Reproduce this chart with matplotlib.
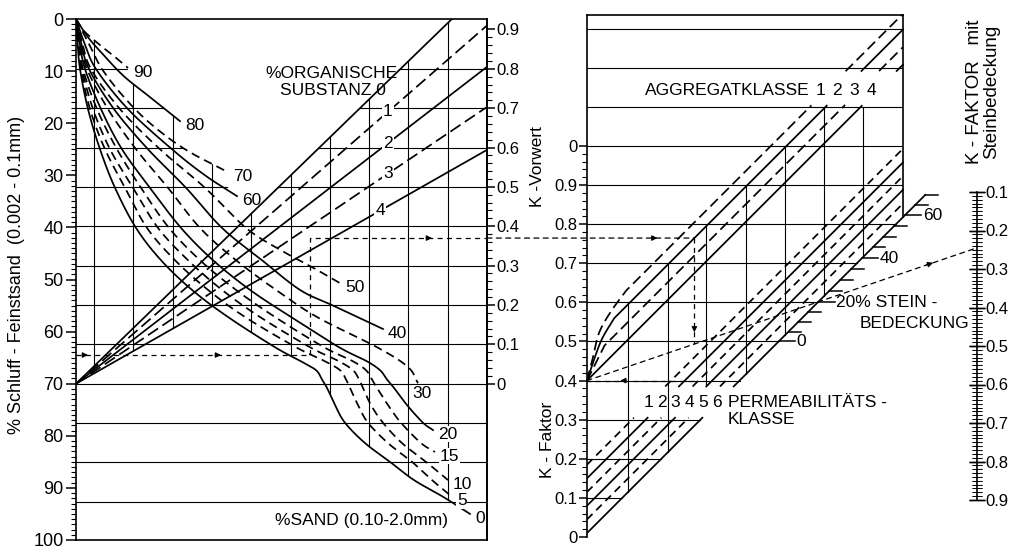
import numpy as np
import matplotlib.pyplot as plt
from matplotlib.patches import Polygon, ConnectionPatch
from matplotlib.ticker import MultipleLocator, FixedLocator, FuncFormatter

plt.rcParams['font.family'] = ['Liberation Sans', 'DejaVu Sans']

# ---------------------------------------------------------------- data
# left block: x = position inside the frame (0 .. 411), y = % Schluff + Feinstsand
sand_90 = ([0, 8, 24, 39, 52], [0, 2.3, 5.0, 7.3, 9.4])
sand_80 = ([0, 12, 28, 48, 74, 104], [0, 3.5, 7.0, 11.0, 15.0, 19.6])
sand_70 = ([0, 12, 26, 48, 74, 109, 152], [0, 4.4, 9.6, 15.0, 20.0, 25.0, 29.4])
sand_60 = ([0, 8, 20, 52, 96, 129, 161], [0, 4.4, 9.6, 17.3, 25.0, 30.0, 34.0])
sand_50 = ([0, 6, 15, 44, 84, 129, 170, 204, 234, 264],
           [0, 4.4, 9.6, 17.3, 25.0, 32.4, 40.1, 44.3, 47.4, 50.7])
sand_40 = ([0, 5, 13, 38, 72, 110, 146, 186, 224, 257, 307],
           [0, 4.4, 9.6, 17.3, 25.0, 32.4, 40.1, 46.3, 52.0, 55.0, 59.5])
sand_30 = ([0, 4, 11, 32, 60, 92, 124, 160, 200, 241, 302, 332, 342],
           [0, 4.4, 9.6, 17.3, 25.0, 32.4, 40.1, 46.3, 52.0, 57.2, 63.1, 66.8, 69.9])
sand_20 = ([0, 3.5, 9, 25, 46, 74, 105, 137, 174, 215, 263, 290, 304, 311, 318, 331, 347, 357],
           [0, 4.4, 9.6, 17.3, 25.0, 32.4, 40.1, 46.3, 52.0, 57.2, 63.0, 65.6, 67.4, 69.2, 70.8,
            74.1, 77.5, 78.9])
sand_15 = ([0, 3, 7, 21, 41, 65, 93, 124, 160, 199, 248, 276, 290, 296, 301, 312, 325, 345, 359],
           [0, 4.4, 9.6, 17.3, 25.0, 32.4, 40.1, 46.3, 52.0, 57.2, 63.0, 65.6, 67.4, 69.2, 70.8,
            74.1, 77.5, 81.4, 83.1])
sand_10 = ([0, 2.5, 6, 17, 34, 57, 82, 112, 146, 184, 234, 262, 277, 283, 287, 295, 307, 326, 350,
            372],
           [0, 4.4, 9.6, 17.3, 25.0, 32.4, 40.1, 46.3, 52.0, 57.2, 63.0, 65.6, 67.4, 69.2, 70.8,
            74.1, 77.5, 81.4, 85.0, 88.5])
sand_5 = ([0, 2, 5, 14, 29, 49, 71, 99, 132, 169, 220, 248, 264, 270, 274, 282, 292, 312, 336, 356,
           376],
          [0, 4.4, 9.6, 17.3, 25.0, 32.4, 40.1, 46.3, 52.0, 57.2, 63.0, 65.6, 67.4, 69.2, 70.8,
           74.1, 77.5, 81.4, 85.0, 88.5, 91.7])
sand_0 = ([0, 1.5, 4, 12, 24, 39, 60, 85, 116, 152, 199, 224, 240, 246, 251, 259, 269, 289, 314, 338,
           367, 394],
          [0, 4.4, 9.6, 17.3, 25.0, 32.4, 40.1, 46.3, 52.0, 57.2, 63.0, 65.6, 67.4, 69.2, 70.8,
           74.1, 77.5, 81.4, 85.0, 88.5, 91.7, 95.0])
sand_pct = [90, 80, 70, 60, 50, 40, 30, 20, 15, 10, 5, 0]
sand_curves = [sand_90, sand_80, sand_70, sand_60, sand_50, sand_40, sand_30,
               sand_20, sand_15, sand_10, sand_5, sand_0]
sand_dashed = [True, False, True, False, True, False, True, False, True, True, True, False]

om_pct = [0, 1, 2, 3, 4]
om_k_right = [1.013, 0.91, 0.805, 0.703, 0.594]     # K-Vorwert where the line meets the right frame
om_dashed = [False, True, False, True, False]

silt_ticks = list(range(0, 101, 10))
k_vorwert_ticks = [0, 0.1, 0.2, 0.3, 0.4, 0.5, 0.6, 0.7, 0.8, 0.9]
left_grid_k = [0.8, 0.7, 0.6, 0.5, 0.4, 0.3, 0.2, 0.1, 0.0, -0.1, -0.2, -0.3]

# right block: x in K units, y = K-Faktor
agg_class = [1, 2, 3, 4]
agg_offset = [0.53, 0.49, 0.445, 0.40]
agg_dashed = [True, False, True, False]
agg_bend_x = [[0, 0.013, 0.03, 0.06, 0.1], [0, 0.02, 0.04, 0.07], [0, 0.02, 0.045], [0]]
agg_bend_k = [[0.4, 0.45, 0.52, 0.575, 0.63], [0.4, 0.46, 0.51, 0.56], [0.4, 0.44, 0.49], [0.4]]

perm_class = [1, 2, 3, 4, 5, 6]
perm_offset = [0.185, 0.15, 0.115, 0.08, 0.045, 0.01]
perm_dashed = [True, False, True, False, True, False]

stone_pct = [0, 20, 40, 60, 70]
stone_k = [0.5, 0.601, 0.713, 0.823, 0.875]
stone_labelled = [0, 20, 40, 60]

k_faktor_ticks = [0, 0.1, 0.2, 0.3, 0.4, 0.5, 0.6, 0.7, 0.8, 0.9, 1.0]
k_faktor_labels = ['0', '0.1', '0.2', '0.3', '0.4', '0.5', '0.6', '0.7', '0.8', '0.9', '0']
right_grid_x = [0.105, 0.207, 0.304, 0.407, 0.506, 0.606, 0.706]
right_grid_k = [0.1, 0.2, 0.3, 0.4, 0.5, 0.6, 0.7, 0.8, 0.9, 1.0, 1.1, 1.2, 1.3]
k_stone_ticks = [0.1, 0.2, 0.3, 0.4, 0.5, 0.6, 0.7, 0.8, 0.9]

# worked example drawn with the thin dashed arrows
read_silt = 64.5
read_sand_x = 234
read_k_vorwert = 0.37
read_agg = 2
read_k_faktor = 0.4
read_k_stone = 0.245


def catmull(x, y, n=24):
    p = np.column_stack([x, y]).astype(float)
    p = np.vstack([2 * p[0] - p[1], p, 2 * p[-1] - p[-2]])
    t = np.linspace(0, 1, n, endpoint=False)[:, None]
    out = []
    for i in range(1, len(p) - 2):
        p0, p1, p2, p3 = p[i - 1], p[i], p[i + 1], p[i + 2]
        out.append(0.5 * (2 * p1 + (p2 - p0) * t + (2 * p0 - 5 * p1 + 4 * p2 - p3) * t ** 2
                          + (3 * p1 - p0 - 3 * p2 + p3) * t ** 3))
    out.append(p[-2][None])
    return np.vstack(out)


def arrow(a, x, y, dx, dy, ms=8):
    a.annotate('', xy=(x, y), xytext=(x - dx, y - dy),
               arrowprops=dict(arrowstyle='-|>', color='k', lw=0.8, mutation_scale=ms,
                               shrinkA=0, shrinkB=0), annotation_clip=False)


W, H = 1011, 546
fig = plt.figure(figsize=(W / 100, H / 100), dpi=100)


def frame(x0, y0, x1, y1):
    return [x0 / W, 1 - y1 / H, (x1 - x0) / W, (y1 - y0) / H]


LW = 1.25
GRID = dict(color='k', lw=0.8)
PATH = dict(color='k', lw=0.9, ls=(0, (4, 3.5)))
TXT = dict(fontsize=12.5, color='k')

# ================================================================ left block
XL = 411
kps = 0.9 / 68                       # K-Vorwert per % silt


def k2silt(k):
    return 70 - np.asarray(k) / kps


ax = fig.add_axes(frame(76, 19, 487, 540))
ax.set_xlim(0, XL)
ax.set_ylim(100, 0)
axk = ax.twinx()
axk.set_ylim(-30 * kps, 70 * kps)
for a in (ax, axk):
    for s in a.spines.values():
        s.set_linewidth(1.2)
axk.spines['left'].set_visible(False)
axk.spines['top'].set_visible(False)
axk.spines['bottom'].set_visible(False)

ax.set_xticks([])
ax.set_yticks(silt_ticks)
ax.yaxis.set_minor_locator(MultipleLocator(1))
ax.tick_params(axis='y', which='major', length=7, width=1.1, labelsize=13, pad=2)
ax.tick_params(axis='y', which='minor', length=3.5, width=0.8)
ax.set_ylabel('% Schluff - Feinstsand  (0.002 - 0.1mm)', fontsize=13)
ax.yaxis.set_label_coords(-0.125, 0.509)

axk.set_yticks(k_vorwert_ticks)
axk.yaxis.set_major_formatter(FuncFormatter(lambda v, p: '0' if abs(v) < 1e-9 else f'{v:.1f}'))
axk.yaxis.set_minor_locator(FixedLocator(np.arange(0, 0.901, 0.02)))
axk.tick_params(axis='y', which='major', length=6, width=1.1, labelsize=12, pad=1)
axk.tick_params(axis='y', which='minor', length=3.5, width=0.8)
axk.set_ylabel('K -Vorwert', fontsize=12.5)
axk.yaxis.set_label_coords(1.105, 0.716)

# sand curves and the envelope used to trim the grid
xs = np.linspace(0, XL, 1500)
dense = [catmull(*c) for c in sand_curves]


def along_x(curve):
    cx = np.maximum.accumulate(curve[:, 0])
    v = np.interp(xs, cx, curve[:, 1])
    v[xs > cx[-1]] = np.nan
    return v


sand_top = np.fmin.reduce(np.vstack([along_x(d) for d in dense]), axis=0)
top = np.fmin(sand_top, k2silt(om_k_right[0] * xs / XL))
low = np.fmax(k2silt(om_k_right[-1] * xs / XL), along_x(dense[-1]))

clip_h = Polygon(np.vstack([np.column_stack([xs, top]), [[XL, 101], [0, 101]]]),
                 transform=ax.transData, facecolor='none', edgecolor='none')
clip_v = Polygon(np.vstack([np.column_stack([xs, top]), np.column_stack([xs, low])[::-1]]),
                 transform=ax.transData, facecolor='none', edgecolor='none')
ax.add_patch(clip_h)
ax.add_patch(clip_v)

for k in left_grid_k:
    ln, = ax.plot([0, XL], [k2silt(k)] * 2, **GRID)
    ln.set_clip_path(clip_h)
for i in range(1, 11):
    gx = XL - 39.3 * i
    ln, = ax.plot([gx, gx], [0, 100], **GRID)
    ln.set_clip_path(clip_v)

for d, pct, dashed in zip(dense, sand_pct, sand_dashed):
    ax.plot(d[:, 0], d[:, 1], color='k', lw=LW, ls=(0, (5, 3)) if dashed else '-')
    ex, ey = d[-1]
    dx, dy = (-6, 1.9) if pct == 30 else (5, 0.8)
    ax.text(ex + dx, ey + dy, str(pct), ha='left', va='center', zorder=5,
            bbox=dict(facecolor='white', edgecolor='none', pad=0.4), **TXT)
ax.text(199, 96.2, '%SAND (0.10-2.0mm)', ha='left', va='center', **TXT)

for kr, pct, dashed in zip(om_k_right, om_pct, om_dashed):
    axk.plot([0, XL], [0, kr], color='k', lw=LW, ls=(0, (7, 3)) if dashed else '-')
    if pct == 0:
        continue
    lx = 304 if pct == 4 else 312
    axk.text(lx, kr * lx / XL, str(pct), ha='center', va='center', zorder=5,
             bbox=dict(facecolor='white', edgecolor='none', pad=1.0), **TXT)
x0_lab = (70 - 13.8) * kps / om_k_right[0] * XL
ax.text(x0_lab + 8, 13.8, 'SUBSTANZ 0', ha='right', va='center', zorder=5,
        bbox=dict(facecolor='white', edgecolor='none', pad=0.6), **TXT)
ax.text(x0_lab + 20, 10.4, '%ORGANISCHE', ha='right', va='center', **TXT)

# worked example in the left block
s_k = float(k2silt(read_k_vorwert))
ax.plot([0, read_sand_x, read_sand_x, XL], [read_silt, read_silt, s_k, s_k], **PATH)
arrow(ax, 12, read_silt, 6, 0)
arrow(ax, 145, read_silt, 6, 0)
arrow(ax, 356, s_k, 6, 0)

# ================================================================ right block
XR, YR = 0.808, 1.335
axR = fig.add_axes(frame(587, 15, 903, 537))
axR.set_xlim(0, XR)
axR.set_ylim(0, YR)
for s in axR.spines.values():
    s.set_linewidth(1.2)
axR.spines['bottom'].set_visible(False)
axR.spines['right'].set_bounds(XR + perm_offset[-1], YR)
axR.set_xticks([])
axR.set_yticks(k_faktor_ticks)
axR.set_yticklabels(k_faktor_labels)
axR.yaxis.set_minor_locator(FixedLocator(np.arange(0, 1.001, 0.02)))
axR.tick_params(axis='y', which='major', length=6, width=1.1, labelsize=12, pad=1)
axR.tick_params(axis='y', which='minor', length=3.5, width=0.8)
axR.set_ylabel('K - Faktor', fontsize=12.5)
axR.yaxis.set_label_coords(-0.1, 0.186)

b6 = perm_offset[-1]
for gx in right_grid_x:
    gtop = min(np.floor((gx + agg_offset[0]) * 10 + 1e-9) / 10, 1.1)
    gbot = gx + b6
    if 0.3 < gbot < 0.385:          # stop above the PERMEABILITÄTS label row
        gbot = 0.385
    axR.plot([gx, gx], [gbot, gtop], **GRID)
for k in right_grid_k:
    xe = min(k - b6, XR)
    axR.plot([0, xe], [k, k], **GRID)

for c, bx, bk, dashed in zip(agg_offset, agg_bend_x, agg_bend_k, agg_dashed):
    bend = catmull(bx, bk, 30) if len(bx) > 1 else np.array([[bx[0], bk[0]]])
    x_end = min(YR - c, XR)
    sx = np.linspace(bx[-1], x_end, 300)
    px = np.concatenate([bend[:, 0], sx])
    py = np.concatenate([bend[:, 1], sx + c])
    py = np.where((py > 1.105) & (py < 1.19), np.nan, py)
    axR.plot(px, py, color='k', lw=LW, ls=(0, (6, 3)) if dashed else '-', clip_on=False)

stone_end = np.interp(stone_pct[-1], stone_pct, stone_k) - b6
for b, dashed in zip(perm_offset, perm_dashed):
    ls = (0, (4.5, 3)) if dashed else '-'
    axR.plot([0, 0.305 - b], [b, 0.305], color='k', lw=LW, ls=ls)
    xe = stone_end if b == b6 else XR
    axR.plot([0.385 - b, xe], [0.385, xe + b], color='k', lw=LW, ls=ls, clip_on=False)

for pct in range(0, stone_pct[-1] + 1, 5):
    tk = np.interp(pct, stone_pct, stone_k)
    tx = tk - b6
    L = 0.042 if pct in stone_labelled else 0.032
    axR.plot([tx, tx + L], [tk, tk], color='k', lw=1.1, clip_on=False)
    if pct in stone_labelled:
        lab = '20% STEIN -' if pct == 20 else str(pct)
        axR.text(tx + L + 0.004, tk, lab, ha='left', va='center', clip_on=False, **TXT)
axR.text(0.698, 0.547, 'BEDECKUNG', ha='left', va='center', **TXT)

axR.text(0.148, 1.143, 'AGGREGATKLASSE', ha='left', va='center', **TXT)
for cls, c in zip(agg_class, agg_offset):
    axR.text(1.143 - c - 0.015, 1.143, str(cls), ha='center', va='center', **TXT)
for cls, b in zip(perm_class, perm_offset):
    axR.text(0.345 - b - 0.004, 0.345, str(cls), ha='center', va='center', **TXT)
axR.text(0.36, 0.345, 'PERMEABILITÄTS -', ha='left', va='center', **TXT)
axR.text(0.36, 0.30, 'KLASSE', ha='left', va='center', **TXT)

# ================================================================ stone scale
axS = fig.add_axes(frame(977, 192, 977.2, 500))
axS.set_xlim(0, 1)
axS.set_ylim(0.9, 0.1)
for s in ('top', 'bottom', 'right'):
    axS.spines[s].set_visible(False)
axS.spines['left'].set_linewidth(1.2)
axS.set_xticks([])
axS.set_yticks(k_stone_ticks)
axS.yaxis.set_major_formatter(FuncFormatter(lambda v, p: f'{v:.1f}'))
axS.yaxis.set_minor_locator(MultipleLocator(0.01))
axS.tick_params(axis='y', which='both', left=True, right=True, labelleft=False,
                labelright=True, direction='inout')
axS.tick_params(axis='y', which='major', length=12, width=1.0, labelsize=12, pad=0)
axS.tick_params(axis='y', which='minor', length=7, width=0.6)
fig.text(983 / W, 1 - 92 / H, 'K - FAKTOR   mit\nSteinbedeckung', rotation=90,
         ha='center', va='center', multialignment='center', fontsize=13.5, linespacing=1.0)

# ================================================================ worked example, right side
K_r = axR.transData.inverted().transform(ax.transData.transform((XL, s_k)))[1]
x_agg = K_r - agg_offset[read_agg - 1]
sx, sy = axR.transData.inverted().transform(axS.transData.transform((0, read_k_stone)))
slope = (sy - read_k_faktor) / sx
k_int = read_k_faktor + slope * x_agg

fig.add_artist(ConnectionPatch(xyA=(XL, s_k), coordsA=ax.transData,
                               xyB=(x_agg, K_r), coordsB=axR.transData, **PATH))
axR.plot([x_agg, x_agg], [K_r, k_int], **PATH)
axR.plot([x_agg, 0], [read_k_faktor, read_k_faktor], **PATH)
fig.add_artist(ConnectionPatch(xyA=(0, read_k_faktor), coordsA=axR.transData,
                               xyB=(0, read_k_stone), coordsB=axS.transData, **PATH))
arrow(axR, 0.18, K_r, 0.015, 0)
arrow(axR, x_agg, k_int + 0.03, 0, -0.015)
arrow(axR, 0.085, read_k_faktor, -0.015, 0)
arrow(axR, 0.885, read_k_faktor + slope * 0.885, 0.02, slope * 0.02)

fig.savefig('out.png', dpi=100)
